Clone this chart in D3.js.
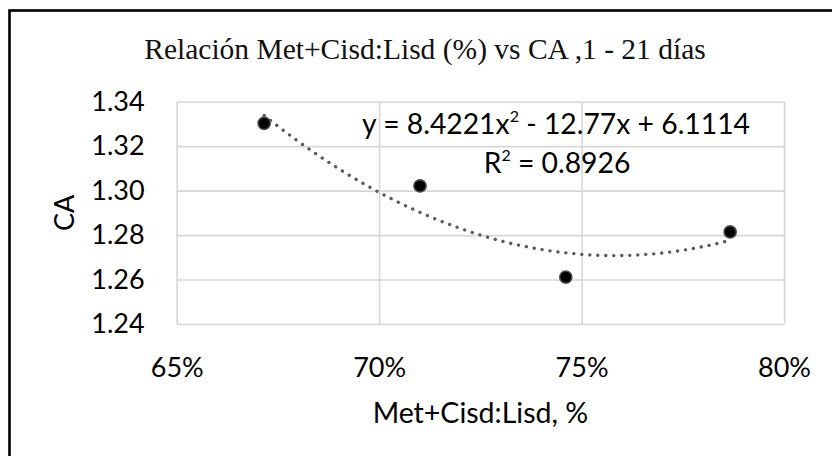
<!DOCTYPE html>
<html>
<head>
<meta charset="utf-8">
<script src="https://cdn.jsdelivr.net/npm/d3@7"></script>
<style>
  body { margin: 0; background: #fff; }
  svg { display: block; }
</style>
</head>
<body>
<div id="chart"></div>
<script>
// Met+Cisd:Lisd ratio vs CA (feed conversion)
const ratio = [0.6716, 0.7101, 0.7461, 0.7867];
const ca = [1.3303, 1.3021, 1.2611, 1.2814];
// polynomial trendline y = a x^2 + b x + c
const trendCoef = [8.4221, -12.77, 6.1114];
const rSquared = "0.8926";
const xTicks = [0.65, 0.70, 0.75, 0.80];
const yTicks = [1.24, 1.26, 1.28, 1.30, 1.32, 1.34];

const width = 832, height = 456;
const margin = { top: 101.7, right: 48, bottom: 132, left: 176.7 };
const chartW = width - margin.left - margin.right;
const chartH = height - margin.top - margin.bottom;

const svg = d3.select("#chart").append("svg")
  .attr("width", width)
  .attr("height", height);

// outer frame (right and bottom edges fall outside the picture)
svg.append("rect")
  .attr("x", 9.5).attr("y", 10.5)
  .attr("width", 900).attr("height", 600)
  .attr("fill", "none")
  .attr("stroke", "#000")
  .attr("stroke-width", 2.6);

svg.append("text")
  .attr("x", 425).attr("y", 59)
  .attr("text-anchor", "middle")
  .style("font-family", "'Liberation Serif', 'Times New Roman', serif")
  .style("font-size", "29.5px")
  .attr("fill", "#111")
  .text("Relación Met+Cisd:Lisd (%) vs CA ,1 - 21 días");

const g = svg.append("g")
  .attr("transform", `translate(${margin.left},${margin.top})`);

const x = d3.scaleLinear().domain([0.65, 0.80]).range([0, chartW]);
const y = d3.scaleLinear().domain([1.24, 1.34]).range([chartH, 0]);

const font = "Lato, 'Open Sans', sans-serif";

// gridlines + tick labels
const yAxis = g.append("g")
  .call(d3.axisLeft(y).tickValues(yTicks).tickSize(-chartW).tickPadding(32)
    .tickFormat(d3.format(".2f")));
const xAxis = g.append("g")
  .attr("transform", `translate(0,${chartH})`)
  .call(d3.axisBottom(x).tickValues(xTicks).tickSize(-chartH).tickPadding(34)
    .tickFormat(d3.format(".0%")));

[xAxis, yAxis].forEach(a => {
  a.select(".domain").remove();
  a.selectAll(".tick line").attr("stroke", "#d6d6d6").attr("stroke-width", 1.6);
  a.selectAll(".tick text")
    .attr("fill", "#000")
    .style("font-family", font)
    .style("font-size", "27px");
});

// trendline
const [a2, a1, a0] = trendCoef;
const xs = d3.range(d3.min(ratio), d3.max(ratio) + 1e-9, (d3.max(ratio) - d3.min(ratio)) / 80);
const line = d3.line()
  .x(d => x(d))
  .y(d => y(a2 * d * d + a1 * d + a0))
  .curve(d3.curveBasis);
g.append("path")
  .datum(xs)
  .attr("d", line)
  .attr("fill", "none")
  .attr("stroke", "#595959")
  .attr("stroke-width", 3.3)
  .attr("stroke-linecap", "round")
  .attr("stroke-dasharray", "0.1,7.9");

// points
g.selectAll("circle.pt")
  .data(ratio.map((r, i) => ({ r, v: ca[i] })))
  .join("circle")
  .attr("class", "pt")
  .attr("cx", d => x(d.r))
  .attr("cy", d => y(d.v))
  .attr("r", 6.2)
  .attr("fill", "#000")
  .attr("stroke", "#555")
  .attr("stroke-width", 1.4);

// equation label
const eq = svg.append("text")
  .attr("x", 556).attr("y", 134)
  .attr("text-anchor", "middle")
  .style("font-family", font)
  .style("font-size", "28.3px")
  .attr("fill", "#000");
eq.append("tspan").text(`y = ${a2}x`);
eq.append("tspan").attr("dy", -12).style("font-size", "16px").text("2");
eq.append("tspan").attr("dy", 12).text(` - ${Math.abs(a1)}x + ${a0}`);

const r2 = svg.append("text")
  .attr("x", 557).attr("y", 173)
  .attr("text-anchor", "middle")
  .style("font-family", font)
  .style("font-size", "28.3px")
  .attr("fill", "#000");
r2.append("tspan").text("R");
r2.append("tspan").attr("dy", -12).style("font-size", "16px").text("2");
r2.append("tspan").attr("dy", 12).text(` = ${rSquared}`);

// axis titles
svg.append("text")
  .attr("x", margin.left + chartW / 2).attr("y", 423)
  .attr("text-anchor", "middle")
  .style("font-family", font)
  .style("font-size", "28.5px")
  .text("Met+Cisd:Lisd, %");

svg.append("text")
  .attr("transform", `translate(74,${margin.top + chartH / 2}) rotate(-90)`)
  .attr("text-anchor", "middle")
  .style("font-family", font)
  .style("font-size", "27px")
  .text("CA");
</script>
</body>
</html>
